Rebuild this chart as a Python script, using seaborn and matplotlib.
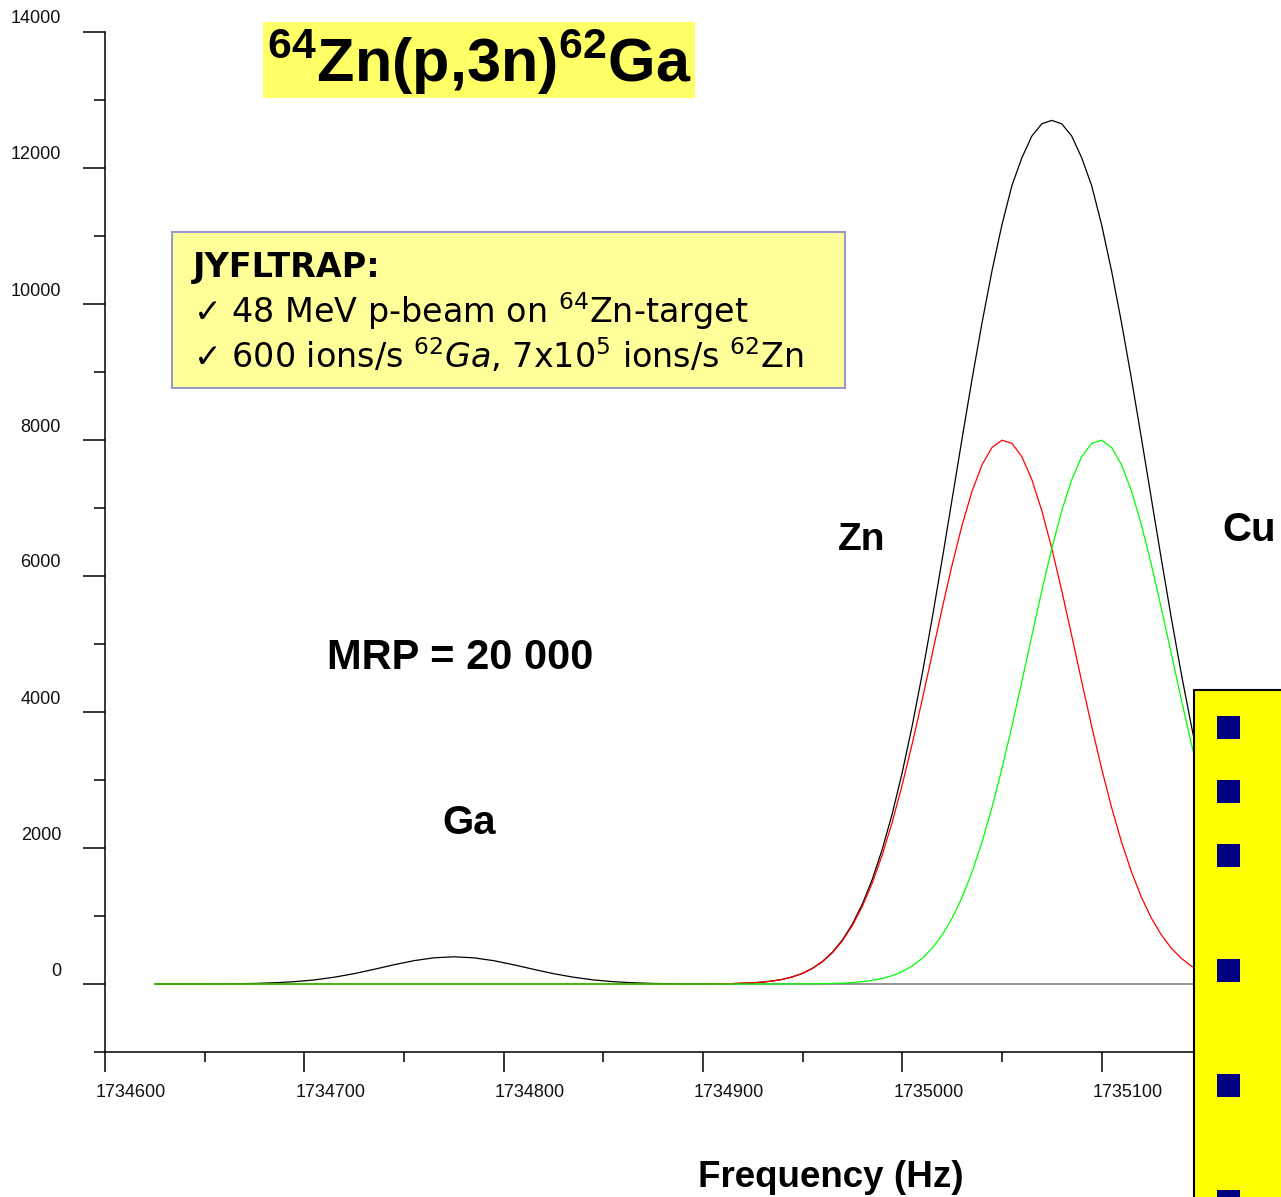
import numpy as np
import pandas as pd
import matplotlib
matplotlib.use("Agg")
import matplotlib.pyplot as plt
import matplotlib.transforms as mtransforms
from matplotlib.patches import Rectangle
import seaborn as sns

# frequency grid (Hz): 10 Hz steps over the Ga region, 5 Hz steps over the Zn/Cu doublet
freq = np.concatenate([np.arange(1734625, 1734926, 10), np.arange(1734930, 1735196, 5)])

# counts
ga_counts = [0, 0, 1, 2, 4, 8, 18, 34, 60, 100, 152, 216, 283, 343, 385, 400,
             385, 343, 283, 216, 152, 100, 60, 34, 18, 8, 4, 2, 1, 0, 0] + [0] * 54

zn_counts = [0] * 28 + [2, 6, 18] + [
    28, 45, 69, 105, 156, 229, 328, 461, 636, 862,
    1144, 1490, 1904, 2386, 2933, 3536, 4182, 4852, 5522, 6163,
    6748, 7248, 7635, 7890, 7997, 7951, 7754, 7417, 6960, 6406,
    5784, 5121, 4449, 3791, 3168, 2597, 2088, 1647, 1274, 967,
    720, 526, 377, 265, 182, 123, 82, 53, 34, 21,
    13, 8, 5, 3]

cu_counts = [0] * 31 + [
    0, 0, 0, 1, 2, 3, 5, 8, 13, 21,
    34, 53, 82, 123, 182, 265, 377, 526, 720, 967,
    1274, 1647, 2088, 2597, 3168, 3791, 4449, 5121, 5784, 6406,
    6960, 7417, 7754, 7951, 7997, 7890, 7635, 7248, 6748, 6163,
    5522, 4852, 4182, 3536, 2933, 2386, 1904, 1490, 1144, 862,
    636, 461, 328, 229]

total_counts = ga_counts[:28] + [3, 6, 18] + [
    28, 45, 69, 106, 158, 232, 333, 469, 649, 883,
    1178, 1543, 1986, 2509, 3115, 3801, 4559, 5378, 6242, 7130,
    8022, 8895, 9723, 10487, 11165, 11742, 12150, 12470, 12650, 12700,
    12650, 12470, 12150, 11742, 11165, 10487, 9723, 8895, 8022, 7130,
    6242, 5378, 4559, 3801, 3115, 2509, 1986, 1543, 1178, 883,
    649, 469, 333, 232]

x_ticks = [1734600, 1734700, 1734800, 1734900, 1735000, 1735100]
y_ticks = [0, 2000, 4000, 6000, 8000, 10000, 12000, 14000]

df = pd.DataFrame({"freq": freq, "total": total_counts, "zn": zn_counts, "cu": cu_counts})

sns.set_style("white")
plt.rcParams["font.family"] = ["Liberation Sans", "DejaVu Sans"]
plt.rcParams["text.color"] = "black"
plt.rcParams["axes.labelcolor"] = "black"
plt.rcParams["xtick.color"] = "black"
plt.rcParams["ytick.color"] = "black"
plt.rcParams["mathtext.fontset"] = "custom"
plt.rcParams["mathtext.rm"] = "DejaVu Sans"
plt.rcParams["mathtext.it"] = "DejaVu Sans:italic"
plt.rcParams["mathtext.bf"] = "Liberation Sans:bold"

W, H = 1281, 1197
fig = plt.figure(figsize=(W / 100, H / 100), dpi=100)


def fx(x):
    return x / W


def fy(y):
    return 1 - y / H


ax = fig.add_axes([fx(105), fy(1052), fx(1281) - fx(105), (1052 - 32) / H])

ax.hlines(0, freq[0], freq[-1], color="#808080", lw=1.2, zorder=1)
sns.lineplot(data=df, x="freq", y="total", color="black", lw=0.9, ax=ax, zorder=2)
sns.lineplot(data=df, x="freq", y="zn", color="#ff0000", lw=0.9, ax=ax, zorder=3)
sns.lineplot(data=df, x="freq", y="cu", color="#00ff00", lw=0.9, ax=ax, zorder=4)

ax.set_xlim(1734600, 1735190)
ax.set_ylim(-1000, 14000)
ax.set_xticks(x_ticks, labels=[str(v) for v in x_ticks])
ax.set_xticks([v + 50 for v in x_ticks], minor=True)
ax.set_yticks(y_ticks, labels=[str(v) for v in y_ticks])
ax.set_yticks([v - 1000 for v in y_ticks], minor=True)
ax.set_xlabel("")
ax.set_ylabel("")

for s in ["top", "right"]:
    ax.spines[s].set_visible(False)
for s in ["left", "bottom"]:
    ax.spines[s].set_linewidth(1.1)
    ax.spines[s].set_color("black")

ax.tick_params(axis="y", which="major", direction="out", length=15.8, width=1.1,
               pad=15.8, labelsize=13, labelcolor="#111111", left=True)
ax.tick_params(axis="y", which="minor", direction="out", length=7.9, width=1.1, left=True)
ax.tick_params(axis="x", which="major", direction="out", length=14.4, width=1.1,
               pad=8.6, labelsize=13, labelcolor="#111111", bottom=True)
ax.tick_params(axis="x", which="minor", direction="out", length=7.2, width=1.1, bottom=True)

# the original software draws tick labels shifted from their ticks
up = mtransforms.ScaledTranslation(0, 0.15, fig.dpi_scale_trans)
right = mtransforms.ScaledTranslation(0.26, 0, fig.dpi_scale_trans)
for t in ax.yaxis.get_major_ticks():
    t.label1.set_transform(t.label1.get_transform() + up)
for t in ax.xaxis.get_major_ticks():
    t.label1.set_transform(t.label1.get_transform() + right)

# title box
fig.patches.append(Rectangle((fx(263), fy(98)), fx(695) - fx(263), (98 - 22) / H,
                             transform=fig.transFigure, facecolor="#ffff66",
                             edgecolor="none", zorder=1))
fig.text(fx(479), fy(82), r"$^{\mathbf{64}}$Zn(p,3n)$^{\mathbf{62}}$Ga", ha="center",
         va="baseline", fontsize=44, fontweight="bold", zorder=3)

# JYFLTRAP info box
fig.patches.append(Rectangle((fx(172), fy(388)), fx(845) - fx(172), (388 - 232) / H,
                             transform=fig.transFigure, facecolor="#ffff99",
                             edgecolor="#9999cc", lw=1.5, zorder=1))
box_font = dict(fontfamily="DejaVu Sans", fontsize=24, ha="left", va="baseline", zorder=3)
fig.text(fx(193), fy(277), "JYFLTRAP:", fontweight="bold", **box_font)
fig.text(fx(193), fy(323), "\u2713 48 MeV p-beam on $^{64}$Zn-target", **box_font)
fig.text(fx(193), fy(368), "\u2713 600 ions/s $^{62}\\mathit{Ga}$, 7x10$^{5}$ ions/s $^{62}$Zn",
         **box_font)

# peak annotations
lab = dict(fontweight="bold", va="baseline", zorder=3)
fig.text(fx(460), fy(669), "MRP = 20 000", ha="center", fontsize=30, **lab)
fig.text(fx(862), fy(550), "Zn", ha="center", fontsize=28, **lab)
fig.text(fx(469), fy(834), "Ga", ha="center", fontsize=29, **lab)
fig.text(fx(1222), fy(541), "Cu", ha="left", fontsize=29, **lab)
fig.text(fx(831), fy(1187), "Frequency (Hz)", ha="center", fontsize=26.5, **lab)

# yellow side panel with bullets (slide decoration)
fig.patches.append(Rectangle((fx(1194), fy(1215)), fx(1300) - fx(1194), (1215 - 690) / H,
                             transform=fig.transFigure, facecolor="#ffff00",
                             edgecolor="black", lw=1.5, zorder=5))
for yc in [727, 791, 855, 970, 1085, 1201]:
    fig.patches.append(Rectangle((fx(1217), fy(yc + 11.5)), 23 / W, 23 / H,
                                 transform=fig.transFigure, facecolor="#000080",
                                 edgecolor="none", zorder=6))

fig.savefig("out.png", dpi=100)
